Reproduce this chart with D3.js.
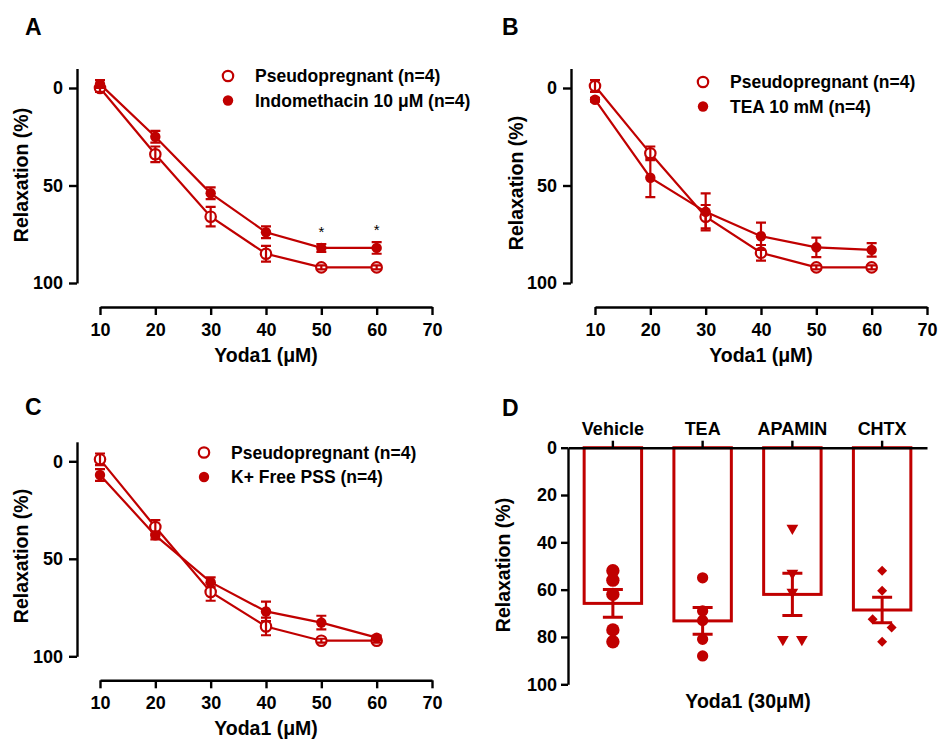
<!DOCTYPE html>
<html>
<head>
<meta charset="utf-8">
<script src="https://cdn.jsdelivr.net/npm/d3@7"></script>
<style>
  body { margin: 0; background: #fff; }
  text { font-family: "Liberation Sans", Arial, sans-serif; font-weight: bold; }
</style>
</head>
<body>
<script>
// dose-response data (relaxation %, mean and SEM)
const doses = [10, 20, 30, 40, 50, 60];

const pseudoA = [0, 34, 66, 85, 92, 92];
const pseudoSemA = [2, 4, 5, 4, 1, 1];
const indoA = [-2, 25, 54, 74, 82, 82];
const indoSemA = [2, 3, 3, 3, 2, 3];
const sigA = [50, 60];

const pseudoB = [-1, 33.5, 66, 84.5, 92, 92];
const pseudoSemB = [3, 3.5, 6, 4, 1, 1];
const teaB = [6, 46, 63.5, 76, 81.7, 83];
const teaSemB = [1, 10, 9.5, 7, 5, 3.5];

const pseudoC = [-1, 33.7, 67, 84.7, 92, 92];
const pseudoSemC = [3, 3.5, 4.5, 4.5, 1, 1];
const kfreeC = [7, 38, 62, 77, 82.7, 90.4];
const kfreeSemC = [3, 2, 2.5, 5, 3.5, 1];

// panel D: individual values at Yoda1 30 uM
const groupsD = ['Vehicle', 'TEA', 'APAMIN', 'CHTX'];
const vehicleD = [52, 56, 62, 77, 82];
const teaD = [55, 73, 69, 81, 88];
const apaminD = [34, 53, 61, 81, 81];
const chtxD = [52, 60.5, 72.5, 76, 82];

const red = '#c00000';

const svg = d3.select('body').append('svg')
    .attr('width', 938)
    .attr('height', 740);

function styleAxis(g, fontSize) {
  g.selectAll('path.domain').attr('stroke', '#000').attr('stroke-width', 2.4);
  g.selectAll('.tick line').attr('stroke', '#000').attr('stroke-width', 2.4);
  g.selectAll('.tick text')
      .attr('fill', '#000')
      .style('font-size', fontSize + 'px')
      .style('font-family', '"Liberation Sans", Arial, sans-serif')
      .style('font-weight', 'bold');
}

function marker(g, kind, cx, cy, size, open) {
  const sym = kind === 'circle' ? d3.symbolCircle
    : kind === 'triangle' ? d3.symbolTriangle : d3.symbolSquare;
  const rot = kind === 'triangle' ? 180 : kind === 'diamond' ? 45 : 0;
  g.append('path')
      .attr('d', d3.symbol().type(sym).size(size)())
      .attr('transform', `translate(${cx},${cy}) rotate(${rot})`)
      .attr('fill', open ? '#fff' : red)
      .attr('stroke', red)
      .attr('stroke-width', open ? 2.2 : 0);
}

// line panels A-C
function linePanel(o) {
  const g = svg.append('g');
  const x = d3.scaleLinear().domain([10, 70]).range([o.x0, o.x0 + 332]);
  const y = d3.scaleLinear().domain([-10, 100]).range([o.y0 - 19.5, o.y0 + 195]);

  const line = d3.line().x((d, i) => x(doses[i])).y(d => y(d));

  o.series.forEach(s => {
    g.append('path')
        .datum(s.values)
        .attr('d', line)
        .attr('fill', 'none')
        .attr('stroke', red)
        .attr('stroke-width', 2.2);
  });

  o.series.forEach(s => {
    s.values.forEach((v, i) => marker(g, 'circle', x(doses[i]), y(v), 85, s.open));
    s.values.forEach((v, i) => {
      const e = s.sem[i];
      const cx = x(doses[i]);
      g.append('path')
          .attr('d', `M${cx},${y(v - e)}V${y(v + e)}M${cx - 5},${y(v - e)}H${cx + 5}M${cx - 5},${y(v + e)}H${cx + 5}`)
          .attr('stroke', red)
          .attr('stroke-width', 2.2)
          .attr('fill', 'none');
    });
  });

  if (o.sig) {
    const s = o.series[1];
    o.sig.forEach(dv => {
      const i = doses.indexOf(dv);
      g.append('text')
          .attr('x', x(dv))
          .attr('y', y(s.values[i] - s.sem[i]) - 7)
          .attr('text-anchor', 'middle')
          .style('font-size', '15px')
          .style('font-weight', 'normal')
          .text('*');
    });
  }

  const yAxis = g.append('g')
      .attr('transform', `translate(${o.yAxisX},0)`)
      .call(d3.axisLeft(y).tickValues([0, 50, 100]).tickSize(8).tickSizeOuter(0).tickPadding(6));
  styleAxis(yAxis, 18);

  const xAxis = g.append('g')
      .attr('transform', `translate(0,${o.y0 + 219})`)
      .call(d3.axisBottom(x).tickValues(d3.range(10, 71, 10)).tickSize(8).tickSizeOuter(0).tickPadding(8));
  styleAxis(xAxis, 18);

  g.append('text')
      .attr('x', (o.x0 + o.x0 + 332) / 2)
      .attr('y', o.y0 + 274)
      .attr('text-anchor', 'middle')
      .style('font-size', '19.5px')
      .text('Yoda1 (μM)');

  g.append('text')
      .attr('transform', `translate(${o.yTitle[0] + 7},${o.yTitle[1]}) rotate(-90)`)
      .attr('text-anchor', 'middle')
      .style('font-size', '19.5px')
      .text('Relaxation (%)');

  g.append('text')
      .attr('x', o.letter[0])
      .attr('y', o.letter[1])
      .style('font-size', '23px')
      .text(o.label);

  o.series.forEach((s, i) => {
    const ly = o.legend[1] + i * 24.5;
    marker(g, 'circle', o.legend[0], ly, 85, s.open);
    g.append('text')
        .attr('x', o.legend[0] + 27)
        .attr('y', ly)
        .attr('dy', '0.35em')
        .style('font-size', '17.5px')
        .text(s.name);
  });
}

linePanel({
  label: 'A', letter: [25, 35], x0: 100, y0: 88, yAxisX: 77,
  yTitle: [21, 175], legend: [228, 76],
  series: [
    {name: 'Pseudopregnant (n=4)', values: pseudoA, sem: pseudoSemA, open: true},
    {name: 'Indomethacin 10 μM (n=4)', values: indoA, sem: indoSemA, open: false}
  ],
  sig: sigA
});

linePanel({
  label: 'B', letter: [502, 35], x0: 595, y0: 88, yAxisX: 571,
  yTitle: [516, 183], legend: [703, 82],
  series: [
    {name: 'Pseudopregnant (n=4)', values: pseudoB, sem: pseudoSemB, open: true},
    {name: 'TEA 10 mM (n=4)', values: teaB, sem: teaSemB, open: false}
  ]
});

linePanel({
  label: 'C', letter: [25, 415], x0: 100, y0: 461.3, yAxisX: 77,
  yTitle: [21, 556], legend: [204, 452.5],
  series: [
    {name: 'Pseudopregnant (n=4)', values: pseudoC, sem: pseudoSemC, open: true},
    {name: 'K+ Free PSS (n=4)', values: kfreeC, sem: kfreeSemC, open: false}
  ]
});

// panel D: bar + scatter
const dValues = [vehicleD, teaD, apaminD, chtxD];
const dShapes = [
  {kind: 'circle', size: 140},
  {kind: 'circle', size: 100},
  {kind: 'triangle', size: 60},
  {kind: 'diamond', size: 50}
];

const gD = svg.append('g');
const xD = d3.scaleBand().domain(groupsD).range([568, 927]).paddingInner(0.36).paddingOuter(0.18);
const yD = d3.scaleLinear().domain([0, 100]).range([447.7, 684.3]);

groupsD.forEach((grp, gi) => {
  const vals = dValues[gi];
  const m = d3.mean(vals);
  const sem = d3.deviation(vals) / Math.sqrt(vals.length);
  const cx = xD(grp) + xD.bandwidth() / 2;

  gD.append('rect')
      .attr('x', xD(grp))
      .attr('y', yD(0))
      .attr('width', xD.bandwidth())
      .attr('height', yD(m) - yD(0))
      .attr('fill', 'none')
      .attr('stroke', red)
      .attr('stroke-width', 3);

  // spread points that sit close together side by side
  const used = new Array(vals.length).fill(false);
  vals.forEach((v, i) => {
    if (used[i]) return;
    const cluster = [i];
    vals.forEach((w, j) => {
      if (j > i && !used[j] && Math.abs(yD(w) - yD(v)) < 9) cluster.push(j);
    });
    cluster.forEach((j, k) => {
      used[j] = true;
      const off = cluster.length === 1 ? 0 : (k - (cluster.length - 1) / 2) * 19;
      marker(gD, dShapes[gi].kind, cx + off, yD(vals[j]), dShapes[gi].size, false);
    });
  });

  gD.append('path')
      .attr('d', `M${cx},${yD(m - sem)}V${yD(m + sem)}M${cx - 10},${yD(m - sem)}H${cx + 10}M${cx - 10},${yD(m + sem)}H${cx + 10}`)
      .attr('stroke', red)
      .attr('stroke-width', 3)
      .attr('fill', 'none');
});

const yAxisD = gD.append('g')
    .attr('transform', 'translate(568,0)')
    .call(d3.axisLeft(yD).tickValues(d3.range(0, 101, 20)).tickSize(7).tickSizeOuter(0).tickPadding(4));
styleAxis(yAxisD, 18);

const xAxisD = gD.append('g')
    .attr('transform', `translate(0,${yD(0)})`)
    .call(d3.axisTop(xD).tickSize(7).tickSizeOuter(0).tickPadding(6));
styleAxis(xAxisD, 18);

gD.append('text')
    .attr('transform', 'translate(510,565) rotate(-90)')
    .attr('text-anchor', 'middle')
    .style('font-size', '19.5px')
    .text('Relaxation (%)');

gD.append('text')
    .attr('x', 748)
    .attr('y', 708)
    .attr('text-anchor', 'middle')
    .style('font-size', '19.5px')
    .text('Yoda1 (30μM)');

gD.append('text')
    .attr('x', 502)
    .attr('y', 416)
    .style('font-size', '23px')
    .text('D');
</script>
</body>
</html>
